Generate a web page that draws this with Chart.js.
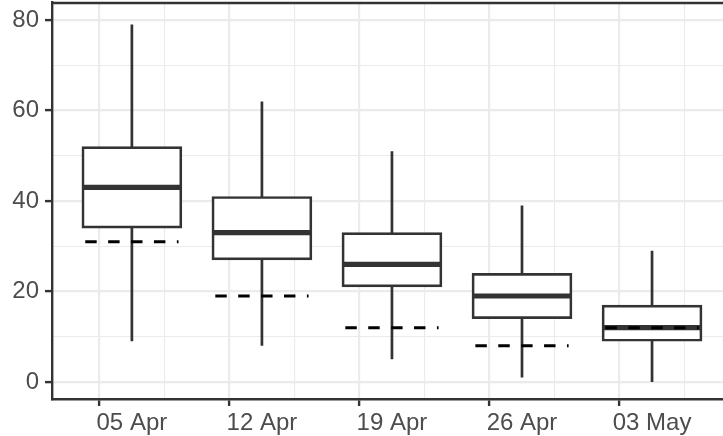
<!DOCTYPE html>
<html>
<head>
<meta charset="utf-8">
<script src="https://cdn.jsdelivr.net/npm/chart.js@4"></script>
<style>
  html, body { margin: 0; padding: 0; background: #ffffff; }
  #wrap { width: 723px; height: 436px; position: relative; }
  canvas { display: block; }
</style>
</head>
<body>
<div id="wrap"><canvas id="c" width="723" height="436"></canvas></div>
<script>
// ---- data ----
const categories   = ['05 Apr', '12 Apr', '19 Apr', '26 Apr', '03 May'];
const dayOffset    = [0, 7, 14, 21, 28];
const whiskerLow   = [9, 8, 5, 1, 0];
const q1           = [34, 27, 21, 14, 9];
const median       = [43, 33, 26, 19, 12];
const q3           = [52, 41, 33, 24, 17];
const whiskerHigh  = [79, 62, 51, 39, 29];
const referenceVal = [31, 19, 12, 8, 12];
const yTickLabels  = [0, 20, 40, 60, 80];

// ---- layout constants ----
const BOX_HALF = 2.64;   // days
const REF_HALF = 2.51;   // days
const X_MIN = -4.3, X_MAX = 31.82;
const Y_MIN = -3.76, Y_MAX = 83.98;
const DARK = '#333333';
const GRID = '#EBEBEB';

function segs(fn) {
  const out = [];
  categories.forEach((c, i) => {
    fn(i).forEach(p => out.push(p));
    out.push({ x: dayOffset[i], y: null });
  });
  return out;
}

const whiskerData = segs(i => [
  { x: dayOffset[i], y: whiskerLow[i] },
  { x: dayOffset[i], y: whiskerHigh[i] }
]);
const medianData = segs(i => [
  { x: dayOffset[i] - BOX_HALF, y: median[i] },
  { x: dayOffset[i] + BOX_HALF, y: median[i] }
]);
const refData = segs(i => [
  { x: dayOffset[i] - REF_HALF, y: referenceVal[i] },
  { x: dayOffset[i] + REF_HALF, y: referenceVal[i] }
]);
const boxData = categories.map((c, i) => ({ x: dayOffset[i], y: [q1[i], q3[i]] }));

const isMajorX = v => v !== undefined && Math.abs(v / 7 - Math.round(v / 7)) < 1e-6;
const isMajorY = v => yTickLabels.includes(v);
const tv = ctx => (ctx && ctx.tick) ? ctx.tick.value : undefined;

const topBorder = {
  id: 'topBorder',
  afterDraw(chart) {
    const { ctx, chartArea } = chart;
    ctx.save();
    ctx.strokeStyle = DARK;
    ctx.lineWidth = 2.4;
    ctx.beginPath();
    ctx.moveTo(chartArea.left - 1, chartArea.top + 1);
    ctx.lineTo(chartArea.right, chartArea.top + 1);
    ctx.stroke();
    ctx.restore();
  }
};

function zeroPad(s) {
  s.paddingTop = 0; s.paddingBottom = 0; s.paddingLeft = 0; s.paddingRight = 0;
}

Chart.defaults.font.family = '"Liberation Sans", Arial, Helvetica, sans-serif';
Chart.defaults.font.size = 24;
Chart.defaults.color = '#4D4D4D';

new Chart(document.getElementById('c'), {
  type: 'bar',
  data: {
    datasets: [
      {
        type: 'line', data: refData, order: 0,
        borderColor: '#000000', borderWidth: 3, borderDash: [11.45, 11.45],
        borderCapStyle: 'butt', pointRadius: 0, spanGaps: false, tension: 0
      },
      {
        type: 'line', data: medianData, order: 1,
        borderColor: DARK, borderWidth: 5.2, borderCapStyle: 'butt',
        pointRadius: 0, spanGaps: false, tension: 0
      },
      {
        type: 'bar', data: boxData, order: 2,
        backgroundColor: '#ffffff', borderColor: DARK, borderWidth: 2.7,
        borderSkipped: false, barThickness: 100, grouped: false
      },
      {
        type: 'line', data: whiskerData, order: 3,
        borderColor: DARK, borderWidth: 2.7, borderCapStyle: 'butt',
        pointRadius: 0, spanGaps: false, tension: 0
      }
    ]
  },
  options: {
    responsive: false,
    devicePixelRatio: 1,
    animation: false,
    layout: { autoPadding: false, padding: { top: 2, right: 0, bottom: 0, left: 0 } },
    plugins: { legend: { display: false }, tooltip: { enabled: false } },
    scales: {
      x: {
        type: 'linear', min: X_MIN, max: X_MAX, offset: false,
        afterFit(s) { s.height = 37; zeroPad(s); },
        afterBuildTicks(s) {
          const t = [];
          for (let v = -3.5; v <= X_MAX; v += 3.5) t.push({ value: v });
          s.ticks = t;
        },
        grid: {
          color: GRID,
          lineWidth: ctx => isMajorX(tv(ctx)) ? 2.2 : 1.1,
          tickColor: ctx => isMajorX(tv(ctx)) ? DARK : 'rgba(0,0,0,0)',
          tickWidth: 2.4, tickLength: 7, drawTicks: true
        },
        border: { display: true, color: DARK, width: 2.4 },
        ticks: {
          autoSkip: false, maxRotation: 0, padding: 3, color: '#4D4D4D',
          callback: v => {
            const i = dayOffset.indexOf(Math.round(v));
            return isMajorX(v) && i >= 0 ? categories[i] : '';
          }
        }
      },
      y: {
        type: 'linear', min: Y_MIN, max: Y_MAX,
        afterFit(s) { s.width = 52; zeroPad(s); },
        afterBuildTicks(s) {
          const t = [];
          for (let v = 0; v <= 80; v += 10) t.push({ value: v });
          s.ticks = t;
        },
        grid: {
          color: GRID,
          lineWidth: ctx => isMajorY(tv(ctx)) ? 2.2 : 1.1,
          tickColor: ctx => isMajorY(tv(ctx)) ? DARK : 'rgba(0,0,0,0)',
          tickWidth: 2.4, tickLength: 7, drawTicks: true
        },
        border: { display: true, color: DARK, width: 2.4 },
        ticks: {
          autoSkip: false, padding: 6, color: '#4D4D4D',
          callback: v => isMajorY(v) ? String(v) : ''
        }
      }
    }
  },
  plugins: [topBorder]
});
</script>
</body>
</html>
